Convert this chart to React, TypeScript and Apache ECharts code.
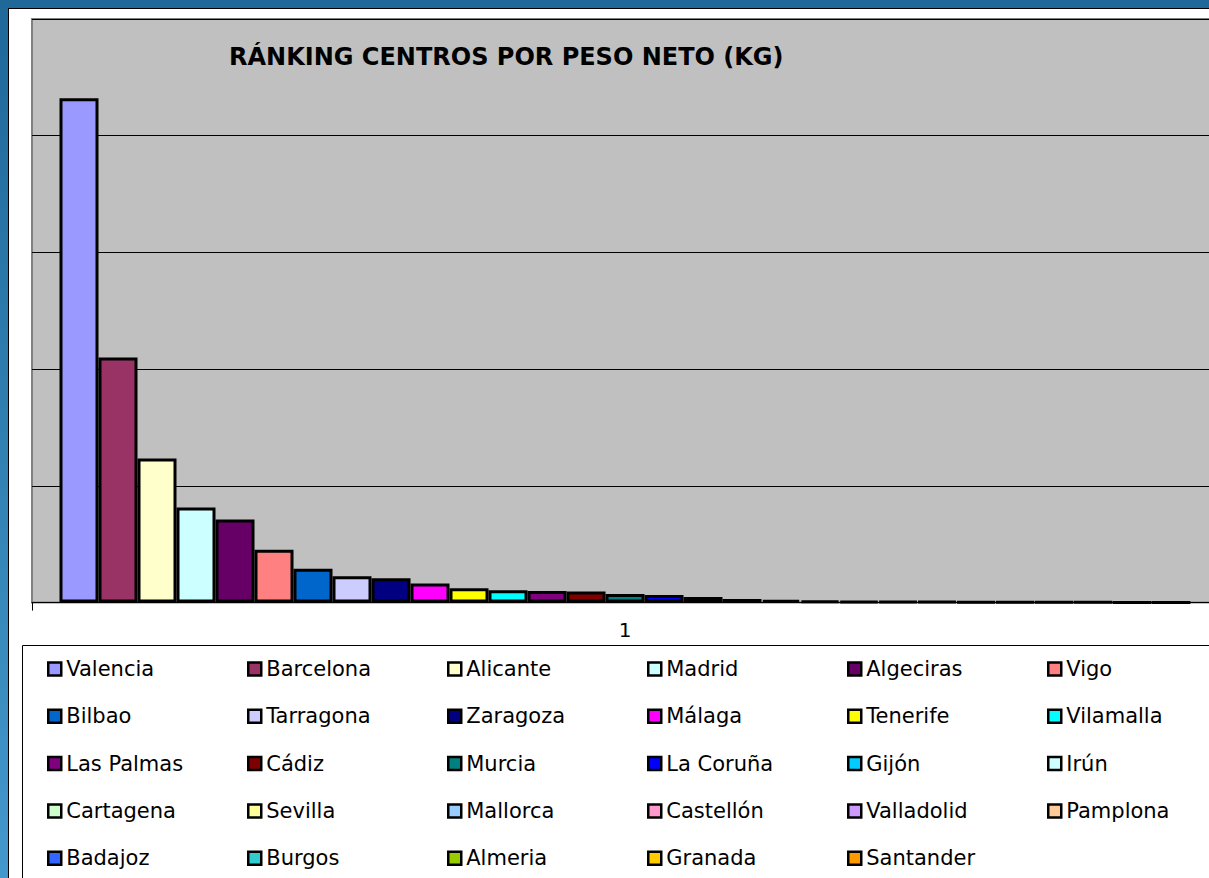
import React, { useEffect, useRef } from "react";
import * as echarts from "echarts";

const categories = ["1"];
const cities = [
  "Valencia", "Barcelona", "Alicante", "Madrid", "Algeciras", "Vigo",
  "Bilbao", "Tarragona", "Zaragoza", "Málaga", "Tenerife", "Vilamalla",
  "Las Palmas", "Cádiz", "Murcia", "La Coruña", "Gijón", "Irún",
  "Cartagena", "Sevilla", "Mallorca", "Castellón", "Valladolid", "Pamplona",
  "Badajoz", "Burgos", "Almeria", "Granada", "Santander",
];
const pesoNeto = [
  432, 210, 123.4, 81.4, 71.1, 45.3,
  29.1, 22.5, 20.8, 16.4, 12.3, 10.5,
  9.9, 9.6, 7.4, 6.5, 4.8, 3.1,
  2.2, 1.5, 1.2, 1.0, 0.9, 0.8,
  0.6, 0.5, 0.4, 0.3, 0.2,
];
const colors = [
  "#9999FF", "#993366", "#FFFFCC", "#CCFFFF", "#660066", "#FF8080",
  "#0066CC", "#CCCCFF", "#000080", "#FF00FF", "#FFFF00", "#00FFFF",
  "#800080", "#800000", "#008080", "#0000FF", "#00CCFF", "#CCFFFF",
  "#CCFFCC", "#FFFF99", "#99CCFF", "#FF99CC", "#CC99FF", "#FFCC99",
  "#3366FF", "#33CCCC", "#99CC00", "#FFCC00", "#FF9900",
];
const yTicks = [0, 100, 200, 300, 400, 500];
const title = "RÁNKING CENTROS POR PESO NETO (KG)";

export default function App() {
  const ref = useRef<HTMLDivElement>(null);
  useEffect(() => {
    const chart = echarts.init(ref.current!, null, { renderer: "svg" });
    const font = "'DejaVu Sans', sans-serif";
    const legendCols = [0, 1, 2, 3, 4, 5].map((c) => ({
      orient: "vertical",
      left: 47 + c * 200,
      top: 657,
      padding: 0,
      icon: "rect",
      itemWidth: 13,
      itemHeight: 13,
      itemGap: 23.3,
      selectedMode: false,
      itemStyle: { borderColor: "#000", borderWidth: 2.5 },
      textStyle: { fontFamily: font, fontSize: 21, color: "#000", lineHeight: 24 },
      data: cities.filter((_, i) => i % 6 === c),
    }));
    chart.setOption({
      animation: false,
      backgroundColor: "#FFFFFF",
      title: {
        text: title,
        left: 229,
        top: 45,
        padding: 0,
        textStyle: { fontFamily: font, fontSize: 24, fontWeight: "bold", color: "#000" },
      },
      graphic: [
        {
          type: "rect",
          shape: { x: 0, y: 0, width: 1209, height: 8 },
          style: { fill: "#1f6899" },
          silent: true,
        },
        {
          type: "rect",
          shape: { x: 0, y: 0, width: 8, height: 878 },
          style: {
            fill: new echarts.graphic.LinearGradient(0, 0, 0, 1, [
              { offset: 0, color: "#1f6899" },
              { offset: 1, color: "#4398cb" },
            ]),
          },
          silent: true,
        },
        {
          type: "line",
          shape: { x1: 8, y1: 8.5, x2: 1209, y2: 8.5 },
          style: { stroke: "#000", lineWidth: 1 },
          silent: true,
        },
        {
          type: "line",
          shape: { x1: 8.5, y1: 8, x2: 8.5, y2: 878 },
          style: { stroke: "#000", lineWidth: 1 },
          silent: true,
        },
        {
          type: "rect",
          shape: { x: 22.5, y: 645.5, width: 1300, height: 400 },
          style: { fill: "none", stroke: "#000", lineWidth: 1 },
          silent: true,
        },
      ],
      legend: legendCols,
      grid: {
        left: 32,
        top: 19,
        width: 1186,
        height: 583.6,
        outerBoundsMode: "none",
        containLabel: false,
        show: true,
        backgroundColor: "#C0C0C0",
        borderColor: "#808080",
        borderWidth: 2,
      },
      xAxis: {
        type: "category",
        data: categories,
        axisLine: { show: true, lineStyle: { color: "#000", width: 1 } },
        axisTick: { show: true, length: 8, lineStyle: { color: "#000" } },
        axisLabel: { fontFamily: font, fontSize: 20, color: "#000", margin: 17 },
      },
      yAxis: {
        type: "value",
        min: yTicks[0],
        max: yTicks[yTicks.length - 1],
        interval: yTicks[1] - yTicks[0],
        axisLine: { show: false },
        axisTick: { show: false },
        axisLabel: { show: false },
        splitLine: { show: true, lineStyle: { color: "#000", width: 1 } },
      },
      series: cities.map((name, i) => ({
        type: "bar",
        name,
        data: [pesoNeto[i]],
        barGap: "0%",
        barWidth: 39,
        itemStyle: { color: colors[i], borderColor: "#000", borderWidth: 3 },
      })),
    });
    return () => chart.dispose();
  }, []);
  return (
    <div
      ref={ref}
      style={{ position: "fixed", left: 0, top: 0, width: 1209, height: 878 }}
    />
  );
}
